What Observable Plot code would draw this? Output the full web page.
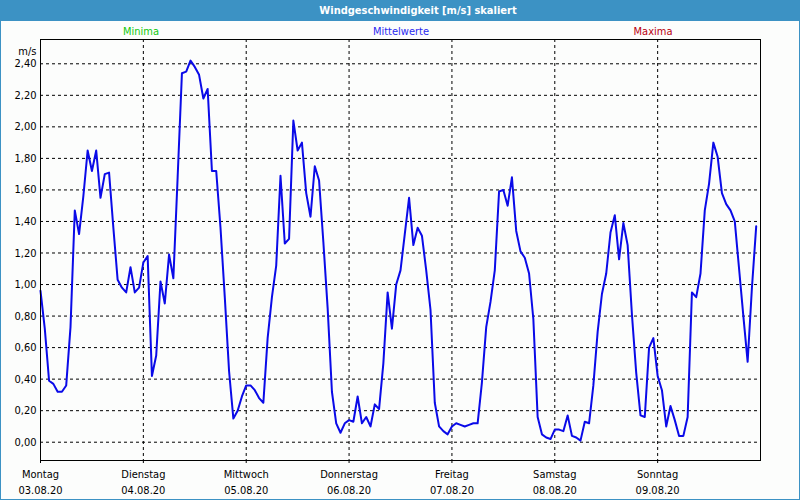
<!DOCTYPE html>
<html><head><meta charset="utf-8">
<script src="https://cdn.jsdelivr.net/npm/d3@7"></script>
<script src="https://cdn.jsdelivr.net/npm/@observablehq/plot@0.6"></script>
<style>
body{margin:0;background:#fff;}
#wrap{position:relative;width:800px;height:500px;background:#fcfdfc;overflow:hidden;font-family:"DejaVu Sans Condensed","DejaVu Sans",sans-serif;font-size:11px;}
#title{position:absolute;left:0;top:0;width:800px;height:21px;background:#3c92c4;}
#title span{position:absolute;left:418px;top:0;transform:translateX(-50%);line-height:21px;color:#fff;font-weight:bold;white-space:nowrap;}
.leg{position:absolute;top:25px;line-height:14px;transform:translateX(-50%);white-space:nowrap;}
#chart{position:absolute;left:0;top:21px;}
#border{position:absolute;left:0;top:0;width:800px;height:500px;box-sizing:border-box;border:1px solid #3c92c4;pointer-events:none;}
</style></head>
<body>
<div id="wrap">
  <div id="title"><span>Windgeschwindigkeit [m/s] skaliert</span></div>
  <div class="leg" style="left:141px;color:#10c810">Minima</div>
  <div class="leg" style="left:401px;color:#2a2af0">Mittelwerte</div>
  <div class="leg" style="left:653px;color:#b80010">Maxima</div>
  <div id="chart"></div>
  <div id="border"></div>
</div>
<script>
// hourly mean wind speed (m/s), one array per day
const mon = [0.96,0.72,0.39,0.37,0.32,0.32,0.36,0.73,1.47,1.32,1.56,1.85,1.72,1.85,1.55,1.70,1.71,1.36,1.03,0.98,0.95,1.11,0.95,0.98];
const tue = [1.14,1.18,0.42,0.55,1.02,0.88,1.19,1.04,1.68,2.34,2.35,2.42,2.38,2.33,2.18,2.24,1.72,1.72,1.36,0.92,0.45,0.15,0.20,0.29];
const wed = [0.36,0.36,0.33,0.28,0.25,0.66,0.92,1.12,1.69,1.26,1.29,2.04,1.85,1.90,1.58,1.43,1.75,1.66,1.27,0.85,0.32,0.12,0.06,0.12];
const thu = [0.14,0.13,0.29,0.12,0.16,0.10,0.24,0.21,0.50,0.95,0.72,1.00,1.09,1.32,1.55,1.25,1.36,1.31,1.09,0.84,0.25,0.10,0.07,0.05];
const fri = [0.10,0.12,0.11,0.10,0.11,0.12,0.12,0.38,0.73,0.89,1.09,1.59,1.60,1.50,1.68,1.34,1.21,1.17,1.07,0.78,0.16,0.05,0.03,0.02];
const sat = [0.08,0.08,0.07,0.17,0.04,0.03,0.01,0.13,0.12,0.36,0.70,0.94,1.07,1.33,1.44,1.16,1.39,1.25,0.81,0.44,0.17,0.16,0.60,0.66];
const sun = [0.42,0.33,0.10,0.23,0.14,0.04,0.04,0.16,0.95,0.92,1.07,1.47,1.64,1.90,1.81,1.58,1.51,1.47,1.40,1.10,0.80,0.51,0.98,1.37];

const dayNames = ["Montag","Dienstag","Mittwoch","Donnerstag","Freitag","Samstag","Sonntag"];
const dateLabels = ["03.08.20","04.08.20","05.08.20","06.08.20","07.08.20","08.08.20","09.08.20"];
const dayStartHours = [0,24,48,72,96,120,144];
const yTicks = [0,0.2,0.4,0.6,0.8,1.0,1.2,1.4,1.6,1.8,2.0,2.2,2.4];

const values = [].concat(mon,tue,wed,thu,fri,sat,sun);
const data = values.map((v,i) => ({hour:i, v}));

const fontFamily = '"DejaVu Sans Condensed","DejaVu Sans",sans-serif';
const chart = Plot.plot({
  width: 800, height: 479,
  marginLeft: 40, marginRight: 40, marginTop: 18, marginBottom: 40,
  style: {background: "transparent", fontFamily, fontSize: "11px", color: "#000"},
  x: {domain: [0, 168]},
  y: {domain: [-0.116, 2.554]},
  marks: [
    Plot.gridY(yTicks, {stroke: "#000", strokeOpacity: 1, strokeDasharray: "3,3"}),
    Plot.gridX(dayStartHours, {stroke: "#000", strokeOpacity: 1, strokeDasharray: "3,3"}),
    Plot.axisY(yTicks, {tickSize: 0, tickPadding: 4, tickFormat: d => d.toFixed(2).replace(".", ","), label: null}),
    Plot.axisX(dayStartHours, {tickSize: 3, tickPadding: 7, tickFormat: d => dayNames[dayStartHours.indexOf(d)], label: null}),
    Plot.axisX(dayStartHours, {tickSize: 0, tickPadding: 26, tickFormat: d => dateLabels[dayStartHours.indexOf(d)], label: null}),
    Plot.line(data, {x: "hour", y: "v", stroke: "#0a0ae8", strokeWidth: 2}),
    Plot.frame({stroke: "#000"}),
    Plot.text(["m/s"], {frameAnchor: "top-left", textAnchor: "end", dx: -4, dy: 8, fill: "#000"})
  ]
});
document.getElementById("chart").appendChild(chart);
</script>
</body></html>
